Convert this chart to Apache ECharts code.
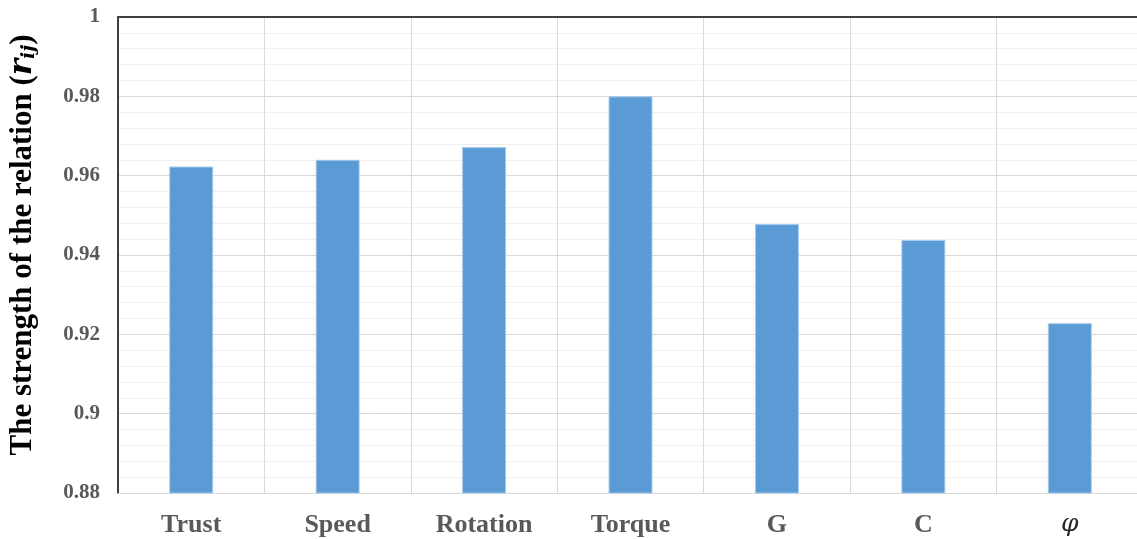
<!DOCTYPE html>
<html>
<head>
<meta charset="utf-8">
<script src="https://cdn.jsdelivr.net/npm/echarts@6/dist/echarts.min.js"></script>
<style>
  html, body { margin: 0; padding: 0; background: #ffffff; overflow: hidden; }
  /* the plot area runs a few pixels past the right edge of the window */
  #chart { width: 1143px; height: 539px; }
</style>
</head>
<body>
<div id="chart"></div>
<script>
// Correlation strength of each parameter
const categories = ['Trust', 'Speed', 'Rotation', 'Torque', 'G', 'C', 'φ'];
const strengthValues = [0.9623, 0.9640, 0.9672, 0.9800, 0.9478, 0.9438, 0.9228];
const yTicks = { min: 0.88, max: 1, step: 0.02 };

const chart = echarts.init(document.getElementById('chart'), null, { renderer: 'canvas' });

const serif = '"Liberation Serif", "Times New Roman", serif';

chart.setOption({
  animation: false,
  backgroundColor: '#ffffff',
  grid: { left: 118, top: 17, bottom: 46, right: 0, containLabel: false, outerBoundsMode: 'none' },
  xAxis: [
    {
      type: 'category',
      data: categories,
      boundaryGap: true,
      axisLine: { show: true, lineStyle: { color: '#d9d9d9', width: 1 } },
      axisTick: { show: false },
      splitLine: { show: true, lineStyle: { color: '#d9d9d9', width: 1 } },
      axisLabel: {
        margin: 19,
        fontFamily: serif,
        fontWeight: 'bold',
        fontSize: 26,
        color: '#595959',
        interval: 0,
        formatter: v => (v === 'φ' ? '{phi|φ}' : v),
        rich: {
          phi: {
            fontFamily: '"DejaVu Serif", serif',
            fontStyle: 'italic',
            fontWeight: 'normal',
            fontSize: 25,
            color: '#262626'
          }
        }
      }
    },
    {
      // frame line along the top of the plot
      type: 'category',
      data: categories,
      position: 'top',
      axisLine: { show: true, lineStyle: { color: '#404040', width: 2 } },
      axisTick: { show: false },
      axisLabel: { show: false },
      splitLine: { show: false }
    }
  ],
  yAxis: {
    type: 'value',
    min: yTicks.min,
    max: yTicks.max,
    interval: yTicks.step,
    name: 'The strength of the relation ({r|r}{ij|ij})',
    nameLocation: 'middle',
    nameGap: 79,
    nameRotate: 90,
    nameTextStyle: {
      fontFamily: serif,
      fontWeight: 'bold',
      fontSize: 31,
      color: '#000000',
      padding: [0, 0, 0, 20],
      rich: {
        r: { fontFamily: '"DejaVu Serif", serif', fontStyle: 'italic', fontWeight: 'bold', fontSize: 31, color: '#000000' },
        ij: { fontFamily: '"DejaVu Serif", serif', fontStyle: 'italic', fontWeight: 'bold', fontSize: 19, color: '#000000', padding: [14, 0, 0, 0] }
      }
    },
    axisLine: { show: true, lineStyle: { color: '#404040', width: 2 } },
    axisTick: { show: false },
    axisLabel: {
      margin: 18,
      fontFamily: serif,
      fontWeight: 'bold',
      fontSize: 21,
      color: '#595959',
      formatter: v => String(parseFloat(v.toFixed(2)))
    },
    splitLine: { show: true, lineStyle: { color: '#d9d9d9', width: 1 } },
    minorTick: { show: false, splitNumber: 5 },
    minorSplitLine: { show: true, lineStyle: { color: '#efefef', width: 1 } }
  },
  series: [
    {
      type: 'bar',
      data: strengthValues,
      barWidth: '30%',
      itemStyle: { color: '#5b9bd5', borderColor: '#a7c8e8', borderWidth: 1 }
    }
  ]
});
</script>
</body>
</html>
